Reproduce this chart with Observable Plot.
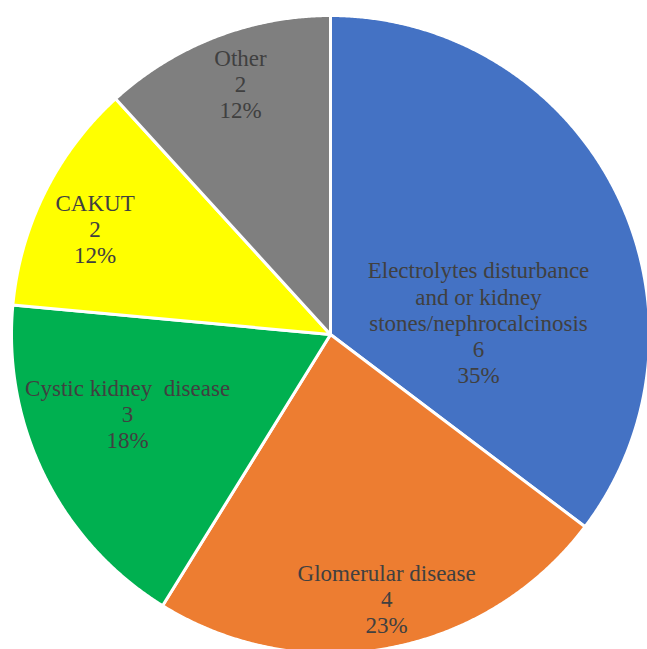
<!DOCTYPE html>
<html>
<head>
<meta charset="utf-8">
<script src="https://cdn.jsdelivr.net/npm/d3@7"></script>
<script src="https://cdn.jsdelivr.net/npm/@observablehq/plot@0.6"></script>
<style>
  body { margin: 0; background: #ffffff; }
</style>
</head>
<body>
<div id="chart"></div>
<script>
// Diagnosis groups, patient counts and the rounded shares shown on each slice
const categories = [
  "Electrolytes disturbance\nand or kidney\nstones/nephrocalcinosis",
  "Glomerular disease",
  "Cystic kidney  disease",
  "CAKUT",
  "Other"
];
const counts = [6, 4, 3, 2, 2];
const percents = ["35%", "23%", "18%", "12%", "12%"];
const colors = ["#4472C4", "#ED7D31", "#00B050", "#FFFF00", "#7F7F7F"];

// Where each label block sits, in units of the pie radius (centre = 0,0)
const labelX = [0.464, 0.176, -0.636, -0.738, -0.282];
const labelY = [0.038, -0.828, -0.248, 0.332, 0.787];

// Slice angles: start at 12 o'clock, clockwise, in data order
const arcs = d3.pie().sort(null).value(d => d)(counts);

// Each slice outlined as a closed polygon: centre -> arc -> centre
const slices = arcs.map((a, i) => {
  const n = Math.max(2, Math.ceil((a.endAngle - a.startAngle) / 0.005));
  const pts = [{x: 0, y: 0}];
  for (let k = 0; k <= n; k++) {
    const t = a.startAngle + (a.endAngle - a.startAngle) * k / n;
    pts.push({x: Math.sin(t), y: Math.cos(t)});
  }
  pts.push({x: 0, y: 0});
  return pts;
});

const labels = d3.range(categories.length).map(i => ({
  x: labelX[i],
  y: labelY[i],
  text: `${categories[i]}\n${counts[i]}\n${percents[i]}`
}));

const cx = 330, cy = 334, r = 319;

const chart = Plot.plot({
  width: 647,
  height: 649,
  margin: 0,
  style: { background: "#ffffff" },
  x: { domain: [-1, 1], range: [cx - r, cx + r], axis: null },
  y: { domain: [-1, 1], range: [cy + r, cy - r], axis: null },
  marks: [
    slices.map((pts, i) => Plot.line(pts, {
      x: "x",
      y: "y",
      fill: colors[i],
      stroke: "#ffffff",
      strokeWidth: 3,
      strokeLinejoin: "round"
    })),
    Plot.text(labels, {
      x: "x",
      y: "y",
      text: "text",
      fontFamily: "'Liberation Serif', 'Times New Roman', serif",
      fontSize: 23,
      lineHeight: 1.14,
      fill: "#404040",
      textAnchor: "middle"
    })
  ]
});

document.getElementById("chart").append(chart);
</script>
</body>
</html>
